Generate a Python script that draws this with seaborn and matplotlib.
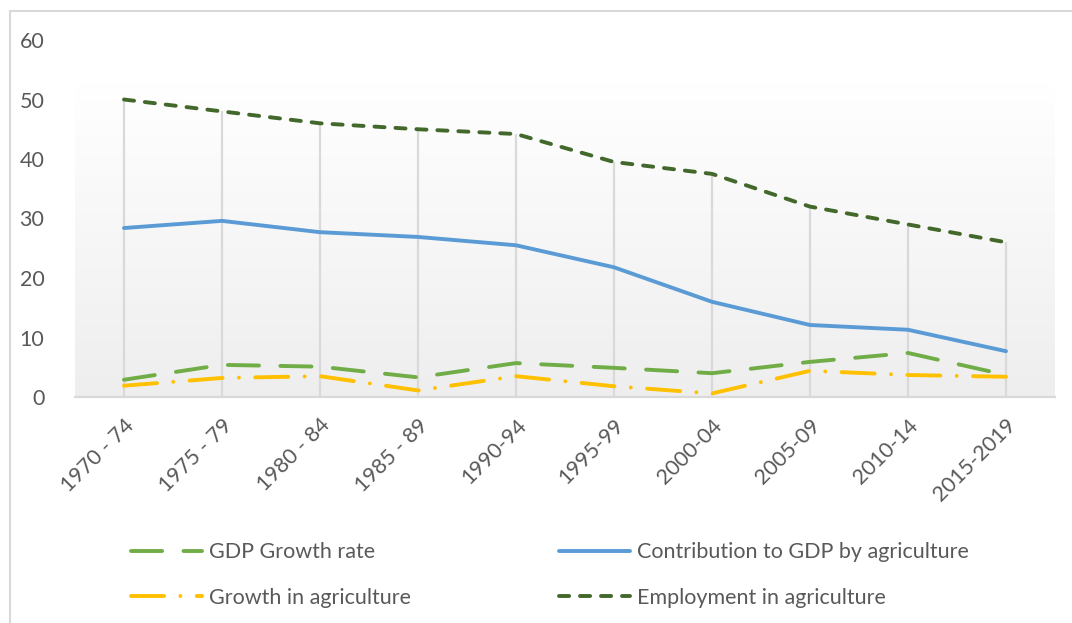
import numpy as np
import pandas as pd
import matplotlib
matplotlib.use("Agg")
import matplotlib.pyplot as plt
import seaborn as sns
from matplotlib.lines import Line2D
from matplotlib.patches import Rectangle

periods = ["1970 - 74", "1975 - 79", "1980 - 84", "1985 - 89", "1990-94",
           "1995-99", "2000-04", "2005-09", "2010-14", "2015-2019"]
gdp_growth = [2.9, 5.4, 5.1, 3.3, 5.7, 4.9, 4.0, 5.9, 7.4, 3.7]
agri_contribution = [28.4, 29.6, 27.7, 26.9, 25.5, 21.8, 16.0, 12.1, 11.3, 7.7]
agri_growth = [1.9, 3.2, 3.5, 1.1, 3.5, 1.8, 0.6, 4.4, 3.7, 3.4]
agri_employment = [50.0, 48.0, 46.0, 45.0, 44.2, 39.5, 37.5, 32.0, 29.0, 26.0]
y_ticks = [0, 10, 20, 30, 40, 50, 60]

names = ["GDP Growth rate", "Contribution to GDP by agriculture",
         "Growth in agriculture", "Employment in agriculture"]
colors = {"GDP Growth rate": "#70AD47",
          "Contribution to GDP by agriculture": "#5B9BD5",
          "Growth in agriculture": "#FFC000",
          "Employment in agriculture": "#43682B"}
dashes = {"GDP Growth rate": (8.0, 5.5),
          "Contribution to GDP by agriculture": None,
          "Growth in agriculture": (8.5, 4.2, 0.01, 4.2),
          "Employment in agriculture": (2.6, 2.8)}

x = np.arange(len(periods))
df = pd.DataFrame({"x": x, "GDP Growth rate": gdp_growth,
                   "Contribution to GDP by agriculture": agri_contribution,
                   "Growth in agriculture": agri_growth,
                   "Employment in agriculture": agri_employment})

sns.set_theme(style="white")
plt.rcParams["font.family"] = ["Lato", "DejaVu Sans"]
text_color = "#595959"
fs = 15.5

fig = plt.figure(figsize=(10.72, 6.23), dpi=100)
ax = fig.add_axes([75 / 1072, 1 - 397 / 623, (1055 - 75) / 1072, (397 - 40) / 623])

# gradient plot area background
grad = np.linspace(1, 0, 256).reshape(-1, 1)
cmap = matplotlib.colors.LinearSegmentedColormap.from_list("g", ["#EEEEEE", "#FFFFFF"])
ax.imshow(grad, extent=[0, 1, 0, 0.88], transform=ax.transAxes, aspect="auto",
          cmap=cmap, vmin=0, vmax=1, zorder=0)

# drop lines
tops = np.max(np.vstack([gdp_growth, agri_contribution, agri_growth, agri_employment]), axis=0)
ax.vlines(x, 0, tops, color="#D9D9D9", lw=1.6, zorder=1)

lw = 2.8
handles = {}
for name in names:
    sns.lineplot(data=df, x="x", y=name, ax=ax, color=colors[name], lw=lw, zorder=3)
    line = ax.get_lines()[-1]
    if dashes[name] is not None:
        line.set_dashes(dashes[name])
        line.set_dash_capstyle("round")
    else:
        line.set_solid_capstyle("round")
    h = Line2D([], [], color=colors[name], lw=lw)
    if dashes[name] is not None:
        h.set_dashes(dashes[name])
        h.set_dash_capstyle("round")
    handles[name] = h

ax.set_xlim(-0.5, len(periods) - 0.5)
ax.set_ylim(0, 60)
ax.set_yticks(y_ticks)
ax.set_yticklabels([str(v) for v in y_ticks], fontsize=fs, color=text_color)
ax.set_xticks(x)
ax.set_xticklabels(periods, rotation=45, ha="right", rotation_mode="anchor",
                   fontsize=fs, color=text_color)
ax.tick_params(axis="x", length=0, pad=13)
ax.tick_params(axis="y", length=0, pad=22)
ax.set_xlabel("")
ax.set_ylabel("")
for s in ["top", "right", "left"]:
    ax.spines[s].set_visible(False)
ax.spines["bottom"].set_color("#D9D9D9")
ax.spines["bottom"].set_linewidth(1.6)
ax.patch.set_alpha(0)

order = ["GDP Growth rate", "Growth in agriculture",
         "Contribution to GDP by agriculture", "Employment in agriculture"]
leg = fig.legend([handles[n] for n in order], order, ncol=2, loc="center left",
                 bbox_to_anchor=(112 / 1072, 1 - 575 / 623), frameon=False,
                 fontsize=fs, handlelength=3.3, handletextpad=0.3,
                 columnspacing=6.9, labelspacing=1.2)
for t in leg.get_texts():
    t.set_color(text_color)

fig.patches.append(Rectangle((10 / 1072, -0.1), 1.2, 1 - 11 / 623 + 0.1,
                             transform=fig.transFigure, fill=False,
                             edgecolor="#D9D9D9", lw=1.5, zorder=0))

fig.savefig("out.png", dpi=100)
